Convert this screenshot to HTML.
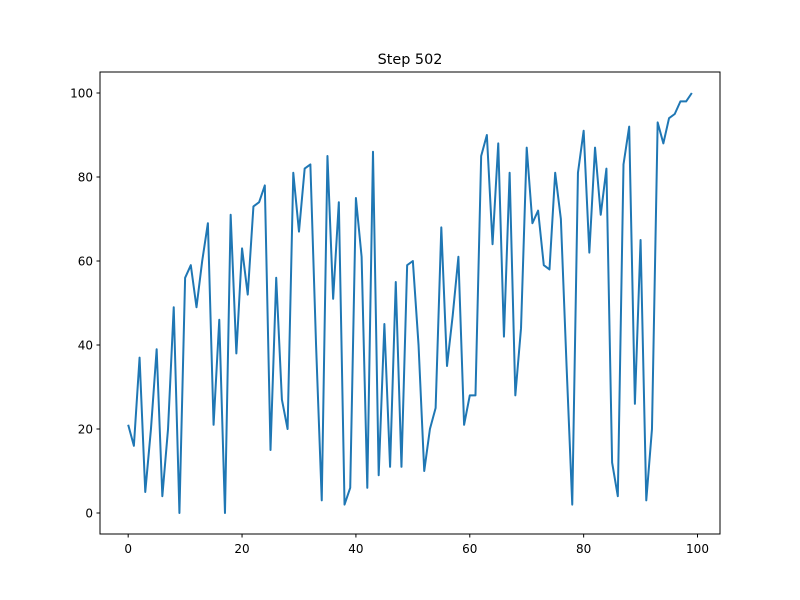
<!DOCTYPE html>
<html><head><meta charset="utf-8"><style>
body{margin:0;background:#fff;}
svg{display:block;font-family:"DejaVu Sans","Liberation Sans",sans-serif;}
</style></head><body>
<svg id="chart" width="800" height="600">
<rect width="800" height="600" fill="#fff"/>
<text x="410" y="64" text-anchor="middle" font-size="14.4">Step 502</text>
<g id="ticks"></g>
<polyline id="line" fill="none" stroke="#1f77b4" stroke-width="2" stroke-linejoin="round"/>
<rect x="100" y="72" width="620" height="462" fill="none" stroke="#000" stroke-width="1"/>
</svg>
<script>
const values=[21,16,37,5,20,39,4,20,49,0,56,59,49,60,69,21,46,0,71,38,63,52,73,74,78,15,56,27,20,81,67,82,83,40,3,85,51,74,2,6,75,61,6,86,9,45,11,55,11,59,60,40,10,20,25,68,35,47,61,21,28,28,85,90,64,88,42,81,28,44,87,69,72,59,58,81,70,35,2,81,91,62,87,71,82,12,4,83,92,26,65,3,20,93,88,94,95,98,98,100];
const xTicks=[0,20,40,60,80,100];
const yTicks=[0,20,40,60,80,100];
const n=values.length;
const xmin=-(n-1)*0.05, xmax=(n-1)*1.05;
const ymin=Math.min(...values), ymax=Math.max(...values);
const yr=ymax-ymin, y0=ymin-yr*0.05, y1=ymax+yr*0.05;
const X=v=>100+(v-xmin)/(xmax-xmin)*620;
const Y=v=>534-(v-y0)/(y1-y0)*462;
const NS="http://www.w3.org/2000/svg";
const line=document.getElementById('line');
line.setAttribute('points',values.map((v,i)=>X(i).toFixed(2)+','+Y(v).toFixed(2)).join(' '));
const g=document.getElementById('ticks');
xTicks.forEach(t=>{
 const l=document.createElementNS(NS,'line');
 l.setAttribute('x1',X(t));l.setAttribute('x2',X(t));l.setAttribute('y1',534);l.setAttribute('y2',537.5);l.setAttribute('stroke','#000');
 
 
 g.appendChild(l);
 const tx=document.createElementNS(NS,'text');
 tx.setAttribute('x',X(t));tx.setAttribute('y',553);tx.setAttribute('text-anchor','middle');tx.setAttribute('font-size','12');
 tx.textContent=t;
 
 
 g.appendChild(tx);
});
yTicks.forEach(t=>{
 const l=document.createElementNS(NS,'line');
 l.setAttribute('x1',96.5);l.setAttribute('x2',100);l.setAttribute('y1',Y(t));l.setAttribute('y2',Y(t));l.setAttribute('stroke','#000');
 
 
 g.appendChild(l);
 const tx=document.createElementNS(NS,'text');
 tx.setAttribute('x',93);tx.setAttribute('y',Y(t)+4.5);tx.setAttribute('text-anchor','end');tx.setAttribute('font-size','12');
 tx.textContent=t;
 
 
 g.appendChild(tx);
});
</script>
</body></html>
